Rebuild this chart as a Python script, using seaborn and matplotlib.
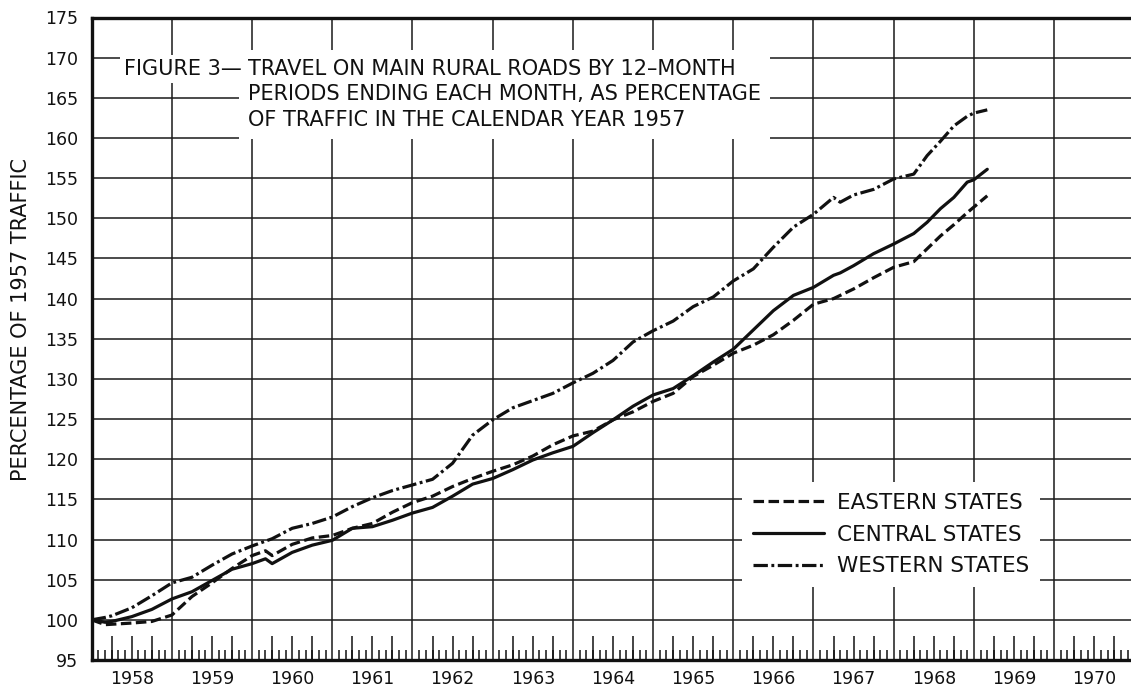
import matplotlib
matplotlib.use("Agg")
import matplotlib.pyplot as plt
import seaborn as sns
import pandas as pd

# ---- data (12-month moving totals, % of 1957 traffic), month 0 = Dec 1957 ----
months = [0, 2, 3, 6, 9, 12, 15, 18, 21, 24, 26, 27, 30, 33, 36, 39, 42, 45, 48,
          51, 54, 57, 60, 63, 66, 69, 72, 75, 78, 81, 84, 87, 90, 93, 96, 99, 102,
          105, 108, 111, 112, 114, 117, 120, 123, 125, 127, 129, 131, 132, 134]
eastern = [100, 99.4, 99.45, 99.6, 99.8, 100.6, 102.9, 104.6, 106.4, 108.0, 108.6,
           108.0, 109.4, 110.2, 110.5, 111.4, 112.0, 113.4, 114.6, 115.4, 116.6,
           117.6, 118.5, 119.3, 120.4, 121.8, 122.9, 123.5, 124.9, 125.9, 127.2,
           128.2, 130.3, 131.7, 133.2, 134.2, 135.5, 137.3, 139.3, 140.0, 140.4,
           141.2, 142.6, 143.9, 144.6, 146.2, 147.8, 149.2, 150.7, 151.4, 152.8]
central = [100, 99.7, 99.8, 100.4, 101.3, 102.6, 103.5, 104.9, 106.3, 107.0, 107.6,
           107.0, 108.4, 109.3, 109.9, 111.4, 111.6, 112.4, 113.3, 114.0, 115.4,
           116.9, 117.6, 118.7, 119.9, 120.8, 121.6, 123.3, 124.9, 126.6, 128.0,
           128.8, 130.4, 132.1, 133.7, 136.1, 138.5, 140.4, 141.4, 142.9, 143.2,
           144.1, 145.6, 146.8, 148.1, 149.5, 151.2, 152.6, 154.5, 154.8, 156.1]
western = [100, 100.3, 100.5, 101.5, 103.0, 104.6, 105.3, 106.8, 108.2, 109.2, 109.8,
           110.1, 111.4, 112.0, 112.8, 114.1, 115.2, 116.1, 116.8, 117.5, 119.5,
           123.0, 124.9, 126.4, 127.3, 128.2, 129.5, 130.7, 132.3, 134.6, 136.0,
           137.2, 139.0, 140.2, 142.2, 143.7, 146.4, 148.9, 150.5, 152.6, 152.0,
           152.9, 153.6, 154.9, 155.5, 157.8, 159.6, 161.5, 162.7, 163.1, 163.5]
regions = ["EASTERN STATES", "CENTRAL STATES", "WESTERN STATES"]
year_labels = [str(y) for y in range(1958, 1971)]
y_ticks = list(range(95, 176, 5))

title_head = "FIGURE 3—"
title_body = ("TRAVEL ON MAIN RURAL ROADS BY 12–MONTH\n"
              "PERIODS ENDING EACH MONTH, AS PERCENTAGE\n"
              "OF TRAFFIC IN THE CALENDAR YEAR 1957")
y_label = "PERCENTAGE OF 1957 TRAFFIC"

df = pd.concat([
    pd.DataFrame({"month": months, "value": vals, "region": name})
    for name, vals in zip(regions, [eastern, central, western])
])

sns.set_style("white")
plt.rcParams["font.family"] = ["DejaVu Sans"]

W, H = 1131, 687
fig = plt.figure(figsize=(W / 100, H / 100), dpi=100)
left_px, right_px, top_px, bot_px = 91.7, 1131, 17.5, 660
ax = fig.add_axes([left_px / W, (H - bot_px) / H, (right_px - left_px) / W,
                   (bot_px - top_px) / H])

def axx(px):
    return (px - left_px) / (right_px - left_px)

def axy(py):
    return (bot_px - py) / (bot_px - top_px)

ink = "#111111"
dashes = {"EASTERN STATES": (3.3, 1.4), "CENTRAL STATES": "",
          "WESTERN STATES": (4.5, 1.1, 0.9, 1.1)}
sns.lineplot(data=df, x="month", y="value", style="region", style_order=regions,
             dashes=dashes, color=ink, linewidth=2.3, ax=ax, legend=False,
             zorder=4)
handles = list(ax.lines[:3])

n_months = len(year_labels) * 12
ax.set_xlim(0, (right_px - left_px) / (80.2 / 12))
ax.set_ylim(95, 175)

# grid
for b in range(12, n_months + 1, 12):
    ax.axvline(b, color="#1a1a1a", lw=1.1, zorder=1)
ax.set_yticks(y_ticks)
ax.yaxis.grid(True, color="#1a1a1a", lw=1.1, zorder=1)
ax.set_axisbelow(True)

# x ticks: year labels centered in each year, monthly minor ticks
ax.set_xticks([12 * i + 6 for i in range(len(year_labels))])
ax.set_xticklabels(year_labels)
ax.set_xticks([m for m in range(1, n_months) if m % 12 != 0], minor=True)
ax.tick_params(axis="x", which="both", bottom=True)
ax.tick_params(axis="x", which="major", length=0, pad=7, labelsize=12.5,
               labelcolor=ink)
ax.tick_params(axis="x", which="minor", direction="in", length=7, width=1.1,
               color=ink)
sec = ax.secondary_xaxis("bottom")
sec.set_xticks([m for m in range(3, n_months, 3) if m % 12 != 0])
sec.tick_params(direction="in", length=17, width=1.1, color=ink,
                labelbottom=False, bottom=True)
for s in sec.spines.values():
    s.set_visible(False)

ax.tick_params(axis="y", length=0, pad=10, labelsize=12.5, labelcolor=ink)
ax.set_xlabel("")
ax.set_ylabel(y_label, fontsize=15, color=ink)
ax.yaxis.set_label_coords(axx(31), 0.53)

for side in ["left", "bottom", "top"]:
    ax.spines[side].set_visible(True)
    ax.spines[side].set_linewidth(2.4)
    ax.spines[side].set_color(ink)
ax.spines["right"].set_visible(False)

# title block
ax.text(axx(248), axy(59), title_body, transform=ax.transAxes, ha="left",
        va="top", fontsize=15, color=ink, linespacing=1.33, zorder=6,
        bbox=dict(boxstyle="square,pad=0.45", facecolor="white",
                  edgecolor="none"))
ax.text(axx(242), axy(59), title_head, transform=ax.transAxes, ha="right",
        va="top", fontsize=15, color=ink, zorder=7,
        bbox=dict(boxstyle="square,pad=0.2", facecolor="white",
                  edgecolor="none"))

leg = ax.legend(handles, regions, loc="upper left",
                bbox_to_anchor=(axx(742), axy(482)), borderaxespad=0,
                fontsize=15.5, handlelength=3.3, handletextpad=0.6,
                labelspacing=0.55, borderpad=0.5, frameon=True,
                fancybox=False, framealpha=1, facecolor="white",
                edgecolor="none")
for t in leg.get_texts():
    t.set_color(ink)
leg.set_zorder(8)

fig.savefig("out.png", dpi=100, facecolor="white")
